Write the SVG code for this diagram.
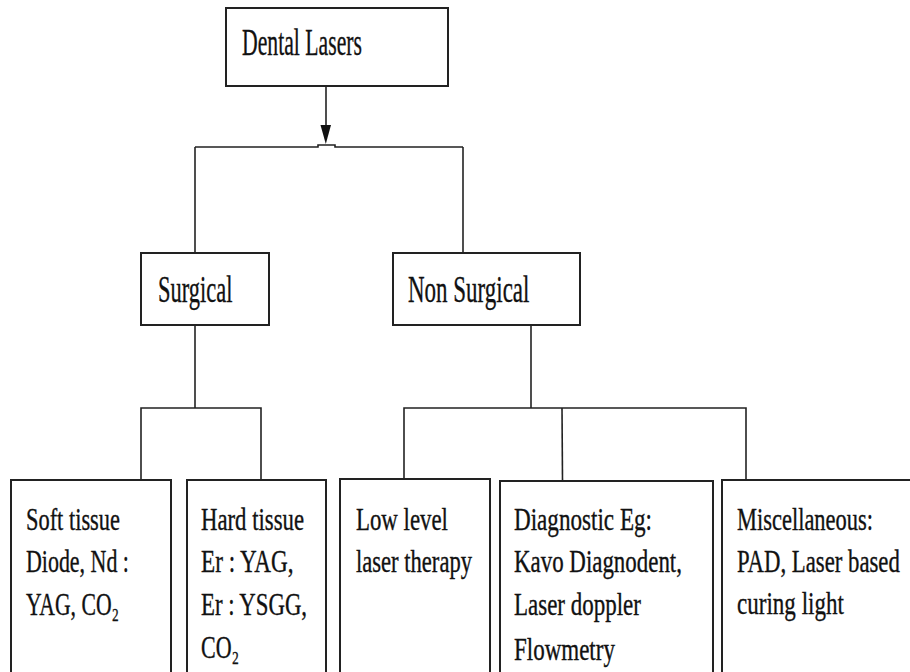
<svg xmlns="http://www.w3.org/2000/svg" width="910" height="672" viewBox="0 0 910 672">
<style>
.box{fill:#fff;stroke:#222;stroke-width:2}
.ln{fill:none;stroke:#222;stroke-width:1.6}
text{font-family:'Liberation Serif','Times New Roman',Times,serif;fill:#111;stroke:#111;stroke-width:0.35}
.t1{font-size:37px}
.t2{font-size:31px}
</style>
<rect width="910" height="672" fill="#fff"/>
<g id="connectors">
<line class="ln" x1="326" y1="86" x2="326" y2="128"/>
<polygon points="320.5,125 331,125 325.8,144" fill="#111"/>
<polyline class="ln" points="195,147 318,147 318,145 335,145 335,147 463,147"/>
<line class="ln" x1="195" y1="147" x2="195" y2="253"/>
<line class="ln" x1="463" y1="147" x2="463" y2="253"/>
<line class="ln" x1="195" y1="325" x2="195" y2="408"/>
<polyline class="ln" points="141,480 141,408 261,408 261,480"/>
<line class="ln" x1="531" y1="325" x2="531" y2="408"/>
<polyline class="ln" points="404,479 404,408 746,408 746,480"/>
<line class="ln" x1="562" y1="408" x2="562.5" y2="481"/>
</g>
<g id="dental-lasers">
<rect class="box" x="226" y="8" width="222" height="78"/>
<text class="t1" transform="translate(242,55) scale(0.587,1)">Dental Lasers</text>
</g>
<g id="surgical">
<rect class="box" x="141" y="253" width="128" height="72"/>
<text class="t1" transform="translate(158,302) scale(0.608,1)">Surgical</text>
</g>
<g id="non-surgical">
<rect class="box" x="393" y="253" width="187" height="72"/>
<text class="t1" transform="translate(408,302) scale(0.621,1)">Non Surgical</text>
</g>
<g id="soft-tissue">
<rect class="box" x="11" y="480" width="160" height="220"/>
<text class="t2" transform="translate(26,530) scale(0.723,1)">Soft tissue</text>
<text class="t2" transform="translate(26,572) scale(0.708,1)">Diode, Nd :</text>
<text class="t2" transform="translate(26,615) scale(0.7,1)">YAG, CO₂</text>
</g>
<g id="hard-tissue">
<rect class="box" x="187" y="480" width="139" height="220"/>
<text class="t2" transform="translate(201,530) scale(0.734,1)">Hard tissue</text>
<text class="t2" transform="translate(201,572) scale(0.748,1)">Er : YAG,</text>
<text class="t2" transform="translate(201,615) scale(0.735,1)">Er : YSGG,</text>
<text class="t2" transform="translate(201,658) scale(0.71,1)">CO₂</text>
</g>
<g id="low-level">
<rect class="box" x="340" y="479" width="150" height="221"/>
<text class="t2" transform="translate(356,530) scale(0.737,1)">Low level</text>
<text class="t2" transform="translate(356,572) scale(0.729,1)">laser therapy</text>
</g>
<g id="diagnostic">
<rect class="box" x="500" y="481" width="213" height="219"/>
<text class="t2" transform="translate(514,530) scale(0.746,1)">Diagnostic Eg:</text>
<text class="t2" transform="translate(514,572) scale(0.739,1)">Kavo Diagnodent,</text>
<text class="t2" transform="translate(514,615) scale(0.741,1)">Laser doppler</text>
<text class="t2" transform="translate(514,660) scale(0.742,1)">Flowmetry</text>
</g>
<g id="miscellaneous">
<rect class="box" x="722" y="480" width="220" height="220"/>
<text class="t2" transform="translate(737,530) scale(0.725,1)">Miscellaneous:</text>
<text class="t2" transform="translate(737,572) scale(0.734,1)">PAD, Laser based</text>
<text class="t2" transform="translate(737,614) scale(0.744,1)">curing light</text>
</g>
</svg>
